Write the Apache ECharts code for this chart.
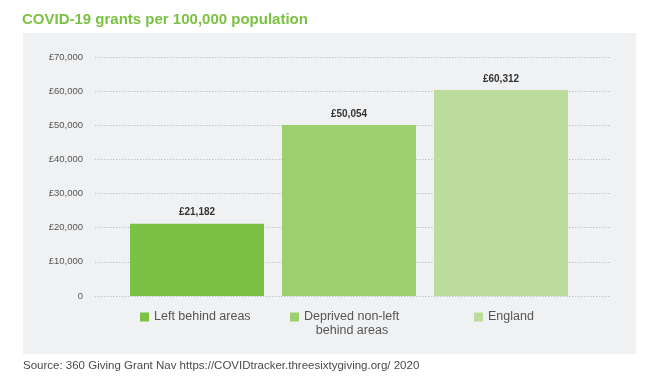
<!DOCTYPE html>
<html><head><meta charset="utf-8">
<script src="https://cdn.jsdelivr.net/npm/echarts@6/dist/echarts.min.js"></script>
<style>html,body{margin:0;padding:0;background:#fff}#c{width:654px;height:380px}</style>
</head><body><div id="c"></div>
<script>
// ---- data ----
const titleText = 'COVID-19 grants per 100,000 population';
const sourceText = 'Source: 360 Giving Grant Nav https://COVIDtracker.threesixtygiving.org/ 2020';
const categories = ['Left behind areas', 'Deprived non-left\nbehind areas', 'England'];
const values = [21182, 50054, 60312];
const yMin = 0, yMax = 70000, yInterval = 10000;

// ---- styles ----
const colors = ['#7bc143', '#9ccf6e', '#bcdc9b'];
const FONT = 'Liberation Sans';
const legendLeft = [135, 285, 469];

function money(v) { return '£' + Number(v).toLocaleString('en-GB'); }

const cv = document.createElement('canvas').getContext('2d');
cv.font = '12.5px "' + FONT + '"';
const line1W = Math.ceil(cv.measureText(categories[1].split('\n')[0]).width);

const chart = echarts.init(document.getElementById('c'), null, {renderer: 'canvas'});

const series = categories.map((name, i) => ({
  type: 'bar', name, xAxisIndex: 1, yAxisIndex: 1, stack: 'all',
  barWidth: 134,
  data: values.map((v, j) => j === i ? v : '-'),
  itemStyle: {color: colors[i]},
  label: {show: true, position: 'top', distance: 6, formatter: p => money(p.value),
          fontFamily: FONT, fontWeight: 'bold', fontSize: 10, color: '#333'}
}));

const legends = categories.map((name, i) => {
  const lg = {
    data: [name], left: legendLeft[i], top: 305, orient: 'horizontal',
    icon: 'rect', itemWidth: 9, itemHeight: 9, selectedMode: false,
    textStyle: {fontFamily: FONT, fontSize: 12.5, color: '#555', lineHeight: 14}
  };
  if (name.indexOf('\n') >= 0) {
    const parts = name.split('\n');
    lg.top = 291;
    lg.formatter = () => '{a|' + parts[0] + '}\n{b|' + parts[1] + '}';
    lg.textStyle.padding = [14, 0, 0, 0];
    lg.textStyle.rich = {
      a: {fontFamily: FONT, fontSize: 12.5, color: '#555', lineHeight: 14},
      b: {fontFamily: FONT, fontSize: 12.5, color: '#555', lineHeight: 14, width: line1W, align: 'center'}
    };
  }
  return lg;
});

chart.setOption({
  animation: false,
  backgroundColor: '#ffffff',
  title: [
    {text: titleText, left: 22, top: 12, padding: 0,
     textStyle: {fontFamily: FONT, fontWeight: 'bold', fontSize: 15, color: '#7bc143'}},
    {text: sourceText, left: 23, top: 360, padding: 0,
     textStyle: {fontFamily: FONT, fontWeight: 'normal', fontSize: 11.5, color: '#4a4a4a'}}
  ],
  graphic: [{type: 'rect', z: -10, silent: true,
    shape: {x: 23, y: 33, width: 613, height: 321}, style: {fill: '#f0f1f3'}}],
  legend: legends,
  grid: [
    {left: 95, width: 516, top: 57, height: 239},
    {left: 121, width: 456, top: 57, height: 239}
  ],
  xAxis: [
    {type: 'category', gridIndex: 0, data: [''], show: false},
    {type: 'category', gridIndex: 1, data: categories, show: false}
  ],
  yAxis: [
    {type: 'value', gridIndex: 0, min: yMin, max: yMax, interval: yInterval,
     axisLine: {show: false}, axisTick: {show: false},
     axisLabel: {margin: 12, fontFamily: FONT, fontSize: 9.5, color: '#555',
                 formatter: v => v === 0 ? '0' : money(v)},
     splitLine: {show: true, lineStyle: {color: '#c4c4c4', type: [1.5, 1.5], width: 1}}},
    {type: 'value', gridIndex: 1, min: yMin, max: yMax, interval: yInterval, show: false,
     splitLine: {show: false}}
  ],
  series
});
</script>
</body></html>
